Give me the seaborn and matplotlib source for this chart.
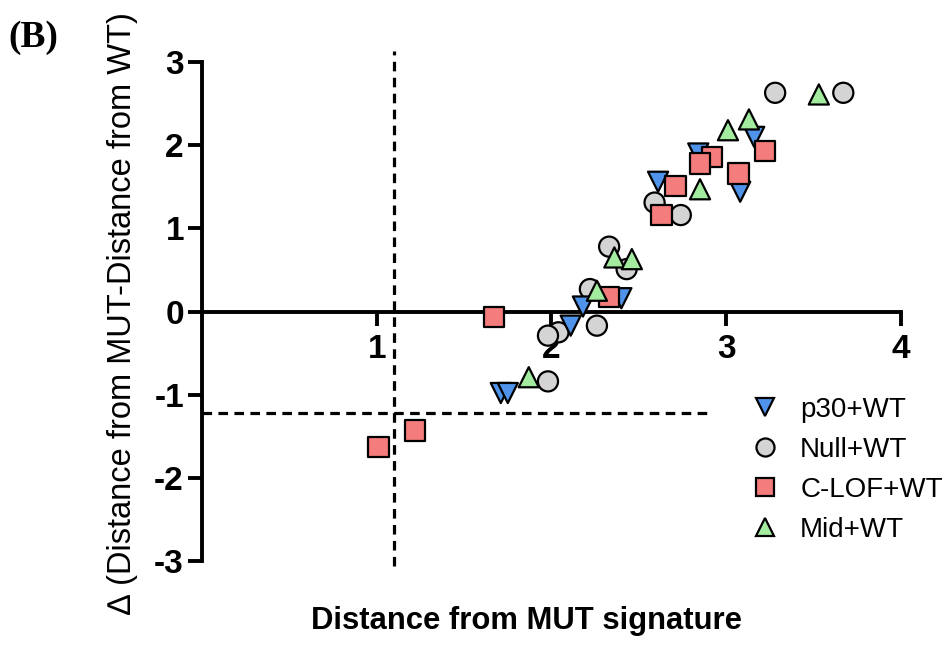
import pandas as pd
import matplotlib
matplotlib.use('Agg')
import matplotlib.pyplot as plt
import seaborn as sns

# values
null_x = [3.28, 3.67, 2.59, 2.74, 2.33, 2.43, 2.22, 2.26, 2.04, 1.98, 1.98]
null_y = [2.63, 2.63, 1.31, 1.16, 0.78, 0.51, 0.27, -0.17, -0.25, -0.29, -0.84]

p30_x = [3.16, 2.84, 2.61, 3.08, 2.40, 2.18, 2.11, 1.71, 1.75]
p30_y = [2.10, 1.90, 1.56, 1.44, 0.16, 0.06, -0.17, -0.98, -0.98]

clof_x = [3.22, 2.92, 2.85, 3.07, 2.71, 2.63, 2.33, 1.67, 1.01, 1.22]
clof_y = [1.93, 1.86, 1.78, 1.66, 1.51, 1.16, 0.17, -0.07, -1.63, -1.43]

mid_x = [3.53, 3.13, 3.01, 2.85, 2.36, 2.46, 2.26, 1.87]
mid_y = [2.61, 2.31, 2.18, 1.47, 0.65, 0.63, 0.25, -0.79]

groups = ['p30+WT', 'Null+WT', 'C-LOF+WT', 'Mid+WT']
cut_x = 1.1
cut_y = -1.22

# drawing order (later rows on top)
df = pd.concat([
    pd.DataFrame({'x': null_x, 'y': null_y, 'group': 'Null+WT'}),
    pd.DataFrame({'x': p30_x, 'y': p30_y, 'group': 'p30+WT'}),
    pd.DataFrame({'x': clof_x, 'y': clof_y, 'group': 'C-LOF+WT'}),
    pd.DataFrame({'x': mid_x, 'y': mid_y, 'group': 'Mid+WT'}),
], ignore_index=True)

palette = {'p30+WT': '#4f93ea', 'Null+WT': '#d4d4d4',
           'C-LOF+WT': '#f47c7c', 'Mid+WT': '#a3ec9f'}
markers = {'p30+WT': 'v', 'Null+WT': 'o', 'C-LOF+WT': 's', 'Mid+WT': '^'}

sns.set_style('white')
plt.rcParams['font.family'] = ['Liberation Sans', 'DejaVu Sans']
plt.rcParams['axes.unicode_minus'] = False
plt.rcParams['text.color'] = 'black'

fig = plt.figure(figsize=(9.46, 6.55), dpi=100)
ax = fig.add_axes([0.2135, 0.1435, 0.7389, 0.7618])

sns.scatterplot(data=df, x='x', y='y', hue='group', style='group',
                hue_order=groups, style_order=groups,
                palette=palette, markers=markers, s=210,
                edgecolor='black', linewidth=1.6, ax=ax, zorder=3)

# dashed cut-off lines
ax.plot([cut_x, cut_x], [-3.06, 3.13], ls=(0, (3, 2)), color='black', lw=2.3, clip_on=False)
ax.plot([0, 2.91], [cut_y, cut_y], ls=(0, (3, 2)), color='black', lw=2.3, clip_on=False)

ax.set_xlim(0, 4)
ax.set_ylim(-3, 3)
ax.spines['top'].set_visible(False)
ax.spines['right'].set_visible(False)
ax.spines['bottom'].set_position(('data', 0))
for side in ['left', 'bottom']:
    ax.spines[side].set_linewidth(2.8)
    ax.spines[side].set_color('black')
    ax.spines[side].set_capstyle('projecting')

ax.set_xticks([1, 2, 3, 4])
ax.set_yticks([-3, -2, -1, 0, 1, 2, 3])
ax.tick_params(axis='both', direction='out', length=10, width=2.8, colors='black',
               labelsize=24, left=True, bottom=True)
for lab in ax.get_xticklabels() + ax.get_yticklabels():
    lab.set_fontweight('bold')
ax.tick_params(axis='x', pad=6)
ax.tick_params(axis='y', pad=3)

ax.set_xlabel('')
ax.set_ylabel('')
fig.text(0.557, 0.052, 'Distance from MUT signature', ha='center', va='center',
         fontsize=22.3, fontweight='bold')
fig.text(0.130, 0.522, '\u2206 (Distance from MUT-Distance from WT)', rotation=90,
         ha='center', va='center', fontsize=23.5)
fig.text(0.009, 0.942, '(B)', ha='left', va='center', fontsize=27, fontweight='bold',
         family=['Liberation Serif', 'DejaVu Serif'])

handles, labels = ax.get_legend_handles_labels()
for h in handles:
    h.set_markersize(13)
ax.legend(handles, labels, loc='upper left', bbox_to_anchor=(0.768, 0.432),
          bbox_transform=fig.transFigure, frameon=False, fontsize=20,
          handletextpad=0.75, labelspacing=0.5, handlelength=1.0)

fig.savefig('out.png', dpi=100)
plt.close()
